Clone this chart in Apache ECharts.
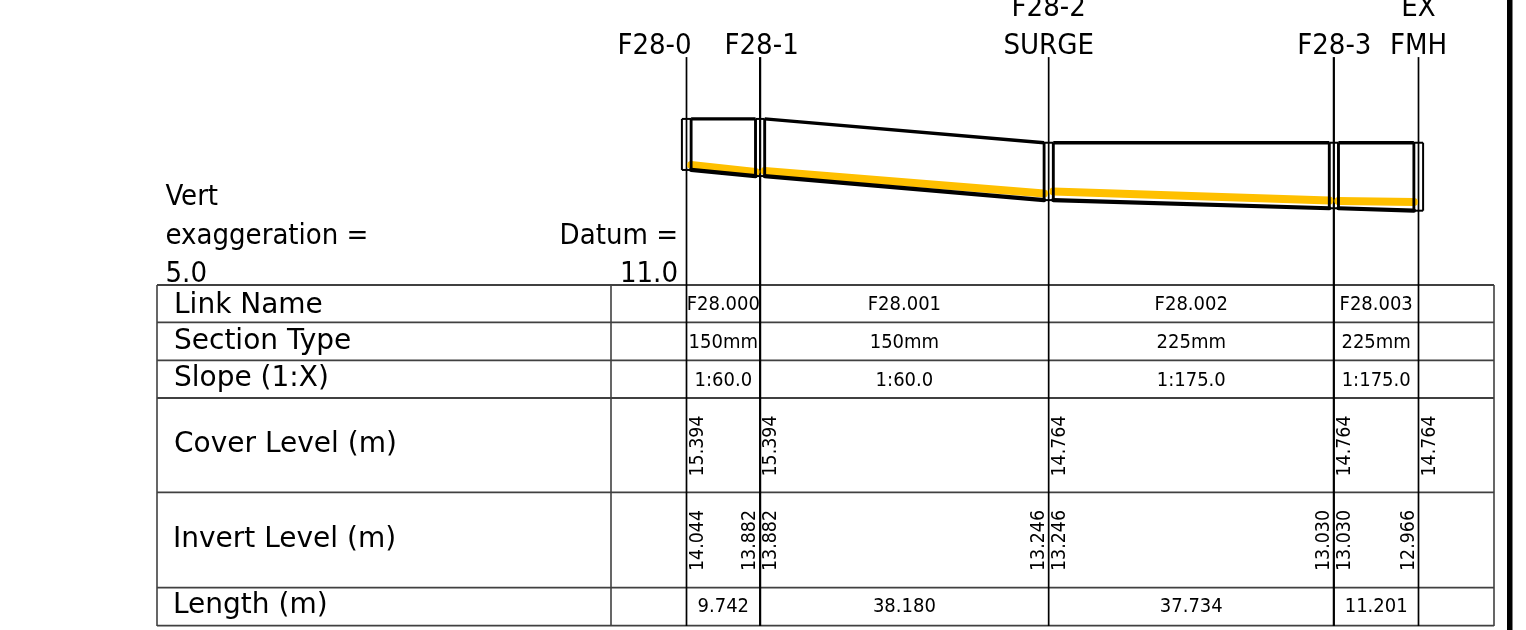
<!DOCTYPE html>
<html><head><meta charset="utf-8">
<style>html,body{margin:0;padding:0;background:#fff}#c{width:1526px;height:630px}</style>
<script src="https://cdn.jsdelivr.net/npm/echarts@6/dist/echarts.min.js"></script>
</head><body><div id="c"></div>
<script>
// --- data
var nodeNames = ['F28-0', 'F28-1', 'F28-2\nSURGE', 'F28-3', 'EX\nFMH'];
var chainage = [0, 9.742, 47.922, 85.656, 96.857];
var coverLevel = [15.394, 15.394, 14.764, 14.764, 14.764];
var manholeInvert = [14.044, 13.882, 13.246, 13.030, 12.966];
var linkNames = ['F28.000', 'F28.001', 'F28.002', 'F28.003'];
var sectionTypes = ['150mm', '150mm', '225mm', '225mm'];
var slopes = ['1:60.0', '1:60.0', '1:175.0', '1:175.0'];
var lengths = ['9.742', '38.180', '37.734', '11.201'];
var coverText = ['15.394', '15.394', '14.764', '14.764', '14.764'];
var upInvert = [14.044, 13.882, 13.246, 13.030];
var downInvert = [13.882, 13.246, 13.030, 12.966];
var upInvertText = ['14.044', '13.882', '13.246', '13.030'];
var downInvertText = ['13.882', '13.246', '13.030', '12.966'];
var waterUp = [14.175, 14.016, 13.474, 13.222];
var waterDown = [13.989, 13.421, 13.235, 13.196];
var rowTitles = ['Link Name', 'Section Type', 'Slope (1:X)', 'Cover Level (m)', 'Invert Level (m)', 'Length (m)'];

// --- layout
var FONT = '"DejaVu Sans"';
var noteFont = 'condensed 29px ' + FONT;
var titleFont = '28px ' + FONT;
var smallFont = 'condensed 20px ' + FONT;
var rotFont = 'condensed 19.4px ' + FONT;
var plotLeft = 686.5, plotWidth = 732, plotH = 285, tableLeft = 157, tableRight = 1494, tableH = 341;
var pxPerM = plotWidth / chainage[4];
var tableXMin = (tableLeft - plotLeft) / pxPerM, tableXMax = (tableRight - plotLeft) / pxPerM;
var datum = 11, levelTop = 18.54, levelLabelTop = 17.03;
var wellHalf = 4.6 / pxPerM;
var rowEdges = [0, 37.3, 75.3, 113, 207.3, 302.7, 340.7];
var rowMid = [20, 58, 95.5, 161, 255.5, 321.5];
var titleMid = [21, 57, 94, 159.5, 254.5, 321];
var labelCol = 611;
var labelColX = (labelCol - plotLeft) / pxPerM;

var series = [];
function seg(grid, pts, color, width, cap) {
  series.push({ type: 'line', xAxisIndex: grid, yAxisIndex: grid, data: pts, symbol: 'none', clip: false,
    silent: true, animation: false, z: 2,
    lineStyle: { color: color, width: width, cap: cap || 'butt', join: 'miter' } });
}
// table grid
rowEdges.forEach(function (r) { seg(1, [[tableXMin, r], [tableXMax, r]], '#404040', 1.8); });
[tableXMin, labelColX, tableXMax].forEach(function (x) { seg(1, [[x, 0], [x, tableH]], '#404040', 1.6); });
// node lines
chainage.forEach(function (c, i) {
  var w = i === 1 || i === 3 ? 2.2 : 1.7;
  seg(0, [[c, levelLabelTop], [c, datum]], '#000', w);
  seg(1, [[c, 0], [c, tableH]], '#000', w);
});
// water
waterUp.forEach(function (w, i) {
  seg(0, [[chainage[i] + wellHalf, w], [chainage[i + 1] - wellHalf, waterDown[i]]], '#FFC000', 8, 'round');
});
// manholes
chainage.forEach(function (c, i) {
  var l = c - wellHalf, r = c + wellHalf, t = coverLevel[i], b = manholeInvert[i];
  seg(0, [[l, t], [r, t]], '#000', 2);
  seg(0, [[l, b], [r, b]], '#000', 2);
  seg(0, [[l, t], [l, b]], '#000', 2);
  seg(0, [[r, t], [r, b]], '#000', 2);
});
// pipes
upInvert.forEach(function (u, i) {
  var a = chainage[i] + wellHalf, b = chainage[i + 1] - wellHalf;
  seg(0, [[a, coverLevel[i]], [b, coverLevel[i + 1]]], '#000', 3.4);
  seg(0, [[a, coverLevel[i]], [a, u]], '#000', 2.8);
  seg(0, [[b, coverLevel[i + 1]], [b, downInvert[i]]], '#000', 2.8);
  seg(0, [[a, u], [b, downInvert[i]]], '#000', 4.2, 'round');
});

// text
var topTexts = [
  { c: chainage[0], dx: -32, t: nodeNames[0] }, { c: chainage[1], dx: 1.5, t: nodeNames[1] },
  { c: chainage[2], dx: 0, t: nodeNames[2] }, { c: chainage[3], dx: 0.5, t: nodeNames[3] },
  { c: chainage[4], dx: 0, t: nodeNames[4] }
];
var cellTexts = [];
[linkNames, sectionTypes, slopes].forEach(function (arr, r) {
  arr.forEach(function (t, i) { cellTexts.push({ x: (chainage[i] + chainage[i + 1]) / 2, y: rowMid[r], t: t, dx: 0 }); });
});
lengths.forEach(function (t, i) { cellTexts.push({ x: (chainage[i] + chainage[i + 1]) / 2, y: rowMid[5], t: t, dx: 0 }); });
coverText.forEach(function (t, i) { cellTexts.push({ x: chainage[i], y: rowMid[3], t: t, rot: 1, dx: 11 }); });
upInvertText.forEach(function (t, i) { cellTexts.push({ x: chainage[i], y: rowMid[4], t: t, rot: 1, dx: 11 }); });
downInvertText.forEach(function (t, i) { cellTexts.push({ x: chainage[i + 1], y: rowMid[4], t: t, rot: 1, dx: -10 }); });
rowTitles.forEach(function (t, r) { cellTexts.push({ x: tableXMin, y: titleMid[r], t: t, big: 1, dx: r === 4 || r === 5 ? 16 : 17 }); });

series.push({
  type: 'custom', xAxisIndex: 1, yAxisIndex: 1, coordinateSystem: 'cartesian2d', clip: false, silent: true, animation: false, z: 5,
  data: cellTexts.map(function (d, i) { return [d.x, d.y, i]; }), encode: { x: 0, y: 1 },
  renderItem: function (p, api) {
    var d = cellTexts[api.value(2)], pt = api.coord([d.x, d.y]);
    return { type: 'text', x: pt[0] + d.dx, y: pt[1], rotation: d.rot ? Math.PI / 2 : 0,
      style: { text: d.t, font: d.big ? titleFont : d.rot ? rotFont : smallFont, fill: '#000', align: d.big ? 'left' : 'center', verticalAlign: 'middle' } };
  }
});
series.push({
  type: 'custom', xAxisIndex: 0, yAxisIndex: 0, coordinateSystem: 'cartesian2d', clip: false, silent: true, animation: false, z: 5,
  data: topTexts.map(function (d, i) { return [d.c, levelLabelTop, i]; }), encode: { x: 0, y: 1 },
  renderItem: function (p, api) {
    var d = topTexts[api.value(2)], pt = api.coord([d.c, levelLabelTop]);
    return { type: 'text', x: pt[0] + d.dx, y: pt[1] + 8,
      style: { text: d.t, font: noteFont, fill: '#000', align: 'center', verticalAlign: 'bottom', lineHeight: 38 } };
  }
});

function note(x, y, t, align) {
  return { type: 'text', x: x, y: y, silent: true, z: 6, style: { text: t, font: noteFont, fill: '#000', align: align, verticalAlign: 'middle', lineHeight: 39 } };
}
var chart = echarts.init(document.getElementById('c'), null, { renderer: 'canvas' });
chart.setOption({
  backgroundColor: '#fff',
  animation: false,
  grid: [
    { left: tableLeft, width: tableRight - tableLeft, top: 0, height: plotH, show: false },
    { left: tableLeft, width: tableRight - tableLeft, top: plotH, height: tableH, show: false }
  ],
  xAxis: [
    { type: 'value', gridIndex: 0, min: tableXMin, max: tableXMax, show: false },
    { type: 'value', gridIndex: 1, min: tableXMin, max: tableXMax, show: false }
  ],
  yAxis: [
    { type: 'value', gridIndex: 0, min: datum, max: levelTop, show: false },
    { type: 'value', gridIndex: 1, min: 0, max: tableH, inverse: true, show: false }
  ],
  series: series,
  graphic: [
    note(165.5, 197, 'Vert', 'left'), note(165.5, 236, 'exaggeration =', 'left'), note(165.5, 274, '5.0', 'left'),
    note(678, 236, 'Datum =', 'right'), note(678, 274, '11.0', 'right'),
    { type: 'rect', silent: true, z: 6, shape: { x: 1507, y: 0, width: 5.5, height: 630 }, style: { fill: '#000' } }
  ]
});
</script></body></html>
